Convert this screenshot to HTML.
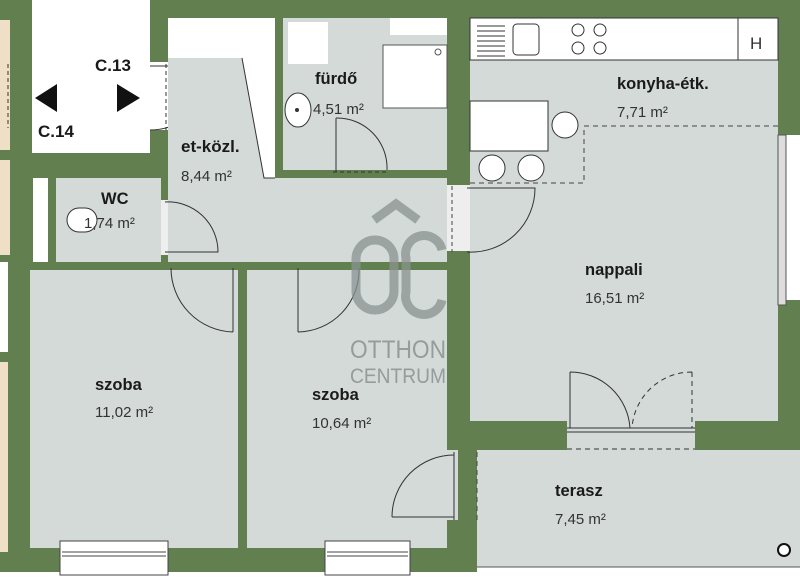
<!DOCTYPE html>
<html><head><meta charset="utf-8"><style>
html,body{margin:0;padding:0;background:#fff;}
svg{display:block;font-family:"Liberation Sans",sans-serif;}
.b{font-weight:bold;font-size:16.5px;fill:#1a1a1a;}
.a{font-size:15px;fill:#333;}
</style></head><body>
<svg width="800" height="579" viewBox="0 0 800 579" xmlns="http://www.w3.org/2000/svg">
<rect width="800" height="579" fill="#fff"/>
<rect x="0" y="0" width="800" height="572" fill="#62804f"/>
<rect x="477" y="567" width="323" height="12" fill="#fff"/>
<rect x="786" y="135" width="14" height="165" fill="#fff"/>
<rect x="0" y="20" width="10" height="130" fill="#eedfc6"/>
<rect x="0" y="160" width="10" height="95" fill="#eedfc6"/>
<rect x="0" y="262" width="8" height="90" fill="#fff"/>
<rect x="0" y="362" width="8" height="190" fill="#eedfc6"/>
<rect x="32" y="0" width="118" height="153" fill="#fff"/>
<rect x="150" y="62" width="18" height="68" fill="#fff"/>
<g stroke="#333" fill="none" stroke-width="1">
<path d="M150 66 H214 A64 64 0 0 1 150 130"/>
<line x1="166" y1="64" x2="166" y2="130" stroke-dasharray="4 3"/>
<line x1="8" y1="64" x2="8" y2="128" stroke-dasharray="4 3"/>
</g>
<polygon points="35,98 57,84 57,112" fill="#111"/>
<polygon points="140,98 117,84 117,112" fill="#111"/>
<text x="95" y="71" class="b" style="font-size:17px">C.13</text>
<text x="38" y="137" class="b" style="font-size:17px">C.14</text>
<rect x="168" y="18" width="107" height="160" fill="#fff"/>
<polygon points="168,58 242,58 264,178 447,178 447,262 168,262" fill="#d3dad8"/>
<path d="M242 58 L264 178 H275" stroke="#333" fill="none"/>
<text x="181" y="152" class="b" style="font-size:17px">et-közl.</text>
<text x="181" y="181" class="a">8,44 m²</text>
<rect x="33" y="178" width="15" height="84" fill="#fff"/>
<rect x="56" y="178" width="105" height="84" fill="#d3dad8"/>
<rect x="161" y="200" width="7" height="55" fill="#eee"/>
<rect x="67" y="208" width="30" height="24" rx="12" fill="#fff" stroke="#333"/>
<path d="M165 202 A50 50 0 0 1 218 252 H165" stroke="#333" fill="none"/>
<text x="101" y="204" class="b">WC</text>
<text x="84" y="228" class="a">1,74 m²</text>
<rect x="283" y="18" width="164" height="152" fill="#d3dad8"/>
<rect x="288" y="22" width="40" height="42" fill="#fff"/>
<rect x="383" y="45" width="64" height="63" fill="#fff" stroke="#555"/>
<circle cx="438" cy="52" r="3" fill="none" stroke="#555"/>
<rect x="390" y="18" width="57" height="17" fill="#fff"/>
<ellipse cx="298" cy="110" rx="13" ry="17" fill="#fff" stroke="#333"/>
<circle cx="297" cy="110" r="2" fill="#333"/>
<path d="M336 118 V172 M336 118 A50 50 0 0 1 387 170" stroke="#333" fill="none"/>
<line x1="333" y1="172" x2="388" y2="172" stroke="#333" stroke-dasharray="4 3"/>
<text x="315" y="84" class="b">fürdő</text>
<text x="313" y="114" class="a">4,51 m²</text>
<rect x="470" y="18" width="308" height="403" fill="#d3dad8"/>
<rect x="470" y="18" width="308" height="42" fill="#fff" stroke="#333"/>
<line x1="738" y1="18" x2="738" y2="60" stroke="#333"/>
<text x="750" y="49" font-size="17" fill="#333">H</text>
<g stroke="#333" fill="none">
<path d="M477 26 H505 M477 31 H505 M477 36 H505 M477 41 H505 M477 46 H505 M477 51 H505 M477 56 H505"/>
<rect x="513" y="24" width="26" height="31" rx="4"/>
<circle cx="578" cy="30" r="6"/><circle cx="600" cy="30" r="6"/>
<circle cx="578" cy="48" r="6"/><circle cx="600" cy="48" r="6"/>
</g>
<rect x="470" y="101" width="78" height="50" fill="#fff" stroke="#333"/>
<circle cx="565" cy="125" r="13" fill="#fff" stroke="#333"/>
<circle cx="492" cy="168" r="13" fill="#fff" stroke="#333"/>
<circle cx="531" cy="168" r="13" fill="#fff" stroke="#333"/>
<path d="M470 183 H584 V126 H778" stroke="#444" stroke-dasharray="5 4" fill="none"/>
<rect x="778" y="135" width="8" height="170" fill="#ddd" stroke="#555"/>
<rect x="447" y="185" width="23" height="66" fill="#eee"/>
<path d="M467 188 H535 A64 64 0 0 1 467 252" stroke="#333" fill="none"/>
<line x1="452" y1="186" x2="452" y2="252" stroke="#444" stroke-dasharray="4 3"/>
<text x="617" y="89" class="b">konyha-étk.</text>
<text x="617" y="117" class="a">7,71 m²</text>
<text x="585" y="275" class="b">nappali</text>
<text x="585" y="303" class="a">16,51 m²</text>
<rect x="567" y="421" width="128" height="30" fill="#d3dad8"/>
<g stroke="#333" fill="none">
<path d="M570 372 V428 M570 372 A60 60 0 0 1 630 428"/>
<path d="M692 372 V428 M692 372 A60 60 0 0 0 632 428" stroke-dasharray="5 4"/>
<line x1="567" y1="428" x2="695" y2="428"/><line x1="567" y1="432" x2="695" y2="432"/>
<line x1="567" y1="449" x2="695" y2="449" stroke-dasharray="5 4"/>
</g>
<rect x="477" y="450" width="323" height="117" fill="#d3dad8"/>
<line x1="477" y1="567" x2="800" y2="567" stroke="#555"/>
<circle cx="784" cy="550" r="6" fill="#fff" stroke="#111" stroke-width="2"/>
<line x1="477" y1="452" x2="477" y2="520" stroke="#444" stroke-dasharray="5 4"/>
<text x="555" y="496" class="b">terasz</text>
<text x="555" y="524" class="a">7,45 m²</text>
<rect x="30" y="270" width="208" height="278" fill="#d3dad8"/>
<rect x="247" y="270" width="200" height="278" fill="#d3dad8"/>
<rect x="440" y="450" width="18" height="70" fill="#d3dad8"/>
<g stroke="#333" fill="none">
<path d="M233 268 V332 M233 332 A64 64 0 0 1 171 268"/>
<path d="M298 268 V332 M298 332 A62 62 0 0 0 359 268"/>
<path d="M392 517 H454 M392 517 A62 62 0 0 1 454 455"/>
<line x1="454" y1="452" x2="454" y2="520"/>
</g>
<text x="95" y="390" class="b">szoba</text>
<text x="95" y="417" class="a">11,02 m²</text>
<text x="312" y="400" class="b">szoba</text>
<text x="312" y="428" class="a">10,64 m²</text>
<g stroke="#444" fill="#fff">
<rect x="60" y="541" width="108" height="34"/>
<line x1="62" y1="552" x2="166" y2="552"/><line x1="62" y1="556" x2="166" y2="556"/>
<rect x="325" y="541" width="85" height="34"/>
<line x1="327" y1="552" x2="408" y2="552"/><line x1="327" y1="556" x2="408" y2="556"/>
</g>
<g fill="none" stroke="#8a9391" stroke-width="9" opacity="0.75">
<path d="M374 220 L396 204 L418 220"/>
<rect x="356" y="240" width="38" height="70" rx="19"/>
<path d="M442 250 A18 18 0 0 0 406 258 V292 A18 18 0 0 0 442 300"/>
</g>
<text x="350" y="358" font-size="25" fill="#8a9391" opacity="0.85" textLength="96" lengthAdjust="spacingAndGlyphs">OTTHON</text>
<text x="350" y="383" font-size="21" fill="#8a9391" opacity="0.85" textLength="96" lengthAdjust="spacingAndGlyphs">CENTRUM</text>
</svg>
</body></html>
